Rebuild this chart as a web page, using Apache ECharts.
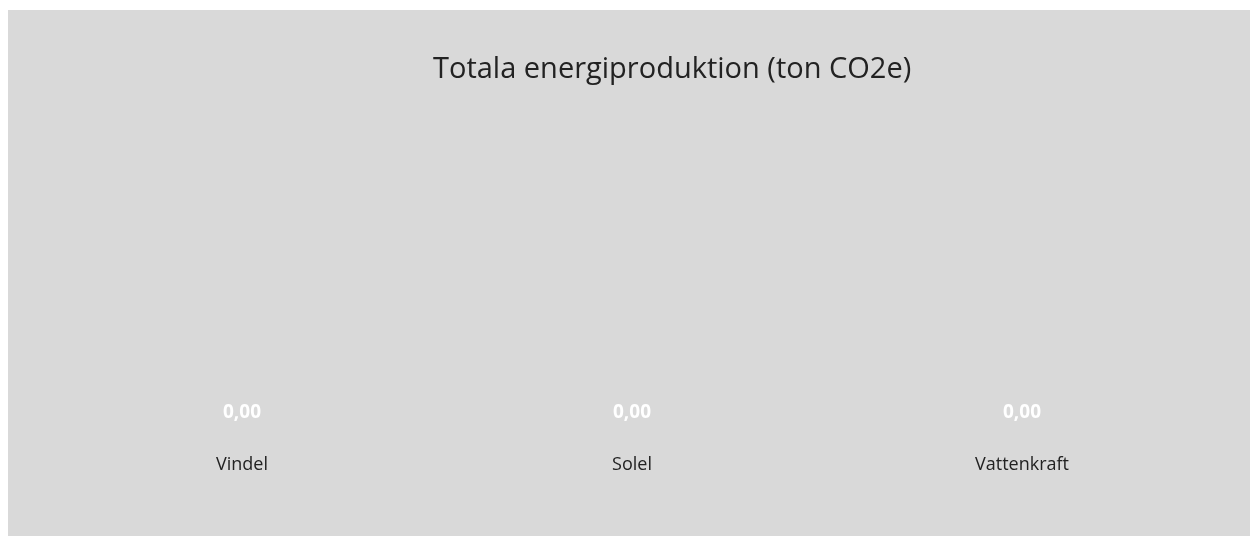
<!DOCTYPE html>
<html>
<head>
<meta charset="utf-8">
<script src="https://cdn.jsdelivr.net/npm/echarts@6/dist/echarts.min.js"></script>
<style>
  html, body { margin: 0; padding: 0; background: #ffffff; }
  #main { position: absolute; left: 8px; top: 10px; width: 1242px; height: 526px; }
</style>
</head>
<body>
<div id="main"></div>
<script>
// chart data
const categories = ['Vindel', 'Solel', 'Vattenkraft'];
const values = [0, 0, 0];

const chart = echarts.init(document.getElementById('main'));
chart.setOption({
    backgroundColor: '#d9d9d9',
    title: {
        text: 'Totala energiproduktion (ton CO2e)',
        left: 420,
        top: 40,
        textStyle: {
            fontFamily: 'Open Sans',
            fontSize: 29,
            fontWeight: 'normal',
            color: '#222222'
        }
    },
    grid: { left: 39, right: 33, top: 120, bottom: 101 },
    xAxis: {
        type: 'category',
        data: categories,
        axisLine: { show: false },
        axisTick: { show: false },
        axisLabel: {
            margin: 21,
            fontFamily: 'Open Sans',
            fontSize: 18,
            color: '#222222'
        }
    },
    yAxis: {
        type: 'value',
        show: false,
        min: 0,
        max: 1
    },
    series: [{
        type: 'bar',
        data: values,
        itemStyle: { color: '#4472c4' },
        label: {
            show: true,
            position: 'top',
            distance: 13,
            formatter: p => p.value.toFixed(2).replace('.', ','),
            fontFamily: 'Open Sans',
            fontSize: 19,
            fontWeight: 'bold',
            color: '#ffffff'
        }
    }]
});
</script>
</body>
</html>
